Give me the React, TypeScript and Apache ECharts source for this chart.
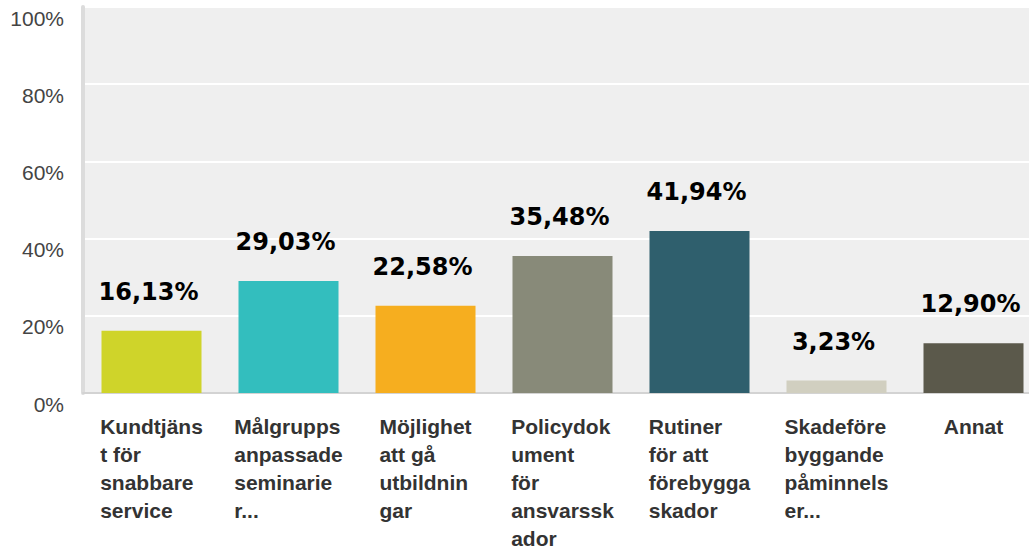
import React, { useEffect, useRef } from "react";
import * as echarts from "echarts";

const categories = [
  "Kundtjäns\nt för\nsnabbare\nservice",
  "Målgrupps\nanpassade\nseminarie\nr...",
  "Möjlighet\natt gå\nutbildnin\ngar",
  "Policydok\nument\nför\nansvarssk\nador",
  "Rutiner\nför att\nförebygga\nskador",
  "Skadeföre\nbyggande\npåminnels\ner...",
  "Annat",
];
const values = [16.13, 29.03, 22.58, 35.48, 41.94, 3.23, 12.9];
const colors = ["#cfd42a", "#33bebe", "#f6ae1f", "#888a79", "#2f5f6d", "#d1cfc0", "#5b594b"];
const yTicks = [0, 20, 40, 60, 80, 100];

export default function App() {
  const ref = useRef<HTMLDivElement>(null);
  useEffect(() => {
    if (!ref.current) return;
    const chart = echarts.init(ref.current, null, { renderer: "svg" });
    chart.setOption({
      animation: false,
      grid: {
        left: 83,
        right: 0,
        top: 7,
        bottom: 157,
        show: true,
        backgroundColor: "#efefef",
        borderWidth: 0,
      },
      xAxis: {
        type: "category",
        data: categories,
        axisLine: { show: true, lineStyle: { color: "#d3d3d3", width: 2 } },
        axisTick: { show: false },
        axisLabel: {
          interval: 0,
          margin: 19,
          align: "center",
          formatter: (v: string) => v.split("\n").map((l) => "{a|" + l + "}").join("\n"),
          rich: {
            a: {
              align: "left",
              fontFamily: "Liberation Sans, Arial, sans-serif",
              fontWeight: "bold",
              fontSize: 21,
              lineHeight: 28,
              color: "#333333",
            },
          },
        },
      },
      yAxis: {
        type: "value",
        min: yTicks[0],
        max: yTicks[yTicks.length - 1],
        interval: 20,
        axisLine: { show: true, lineStyle: { color: "#dcdcdc", width: 4 } },
        axisTick: { show: false },
        splitLine: { show: true, lineStyle: { color: "#ffffff", width: 2 } },
        axisLabel: {
          formatter: "{value}%",
          fontFamily: "Liberation Sans, Arial, sans-serif",
          fontSize: 21,
          color: "#444444",
          margin: 19,
          verticalAlign: "top",
          lineHeight: 22,
        },
      },
      series: [
        {
          type: "bar",
          barWidth: 100,
          data: values.map((v, i) => ({ value: v, itemStyle: { color: colors[i] } })),
          label: {
            show: true,
            position: "top",
            distance: 27,
            offset: [-3, 0],
            fontFamily: "DejaVu Sans, sans-serif",
            fontWeight: "bold",
            fontSize: 24,
            color: "#000000",
            formatter: (p: any) => p.value.toFixed(2).replace(".", ",") + "%",
          },
        },
      ],
    });
    return () => chart.dispose();
  }, []);
  return (
    <div style={{ position: "absolute", left: 0, top: 0, width: 1029, height: 550, overflow: "hidden" }}>
      <div ref={ref} style={{ width: 1042, height: 550 }} />
    </div>
  );
}
